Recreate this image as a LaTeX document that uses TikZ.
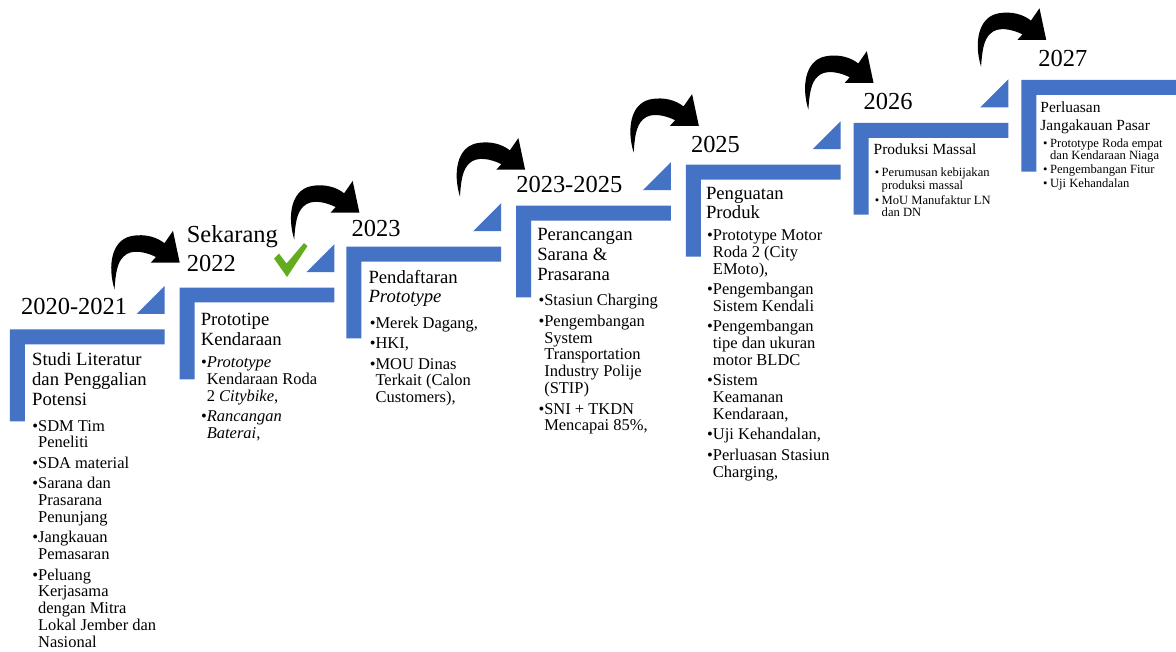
\documentclass[tikz,border=0pt]{standalone}
\usepackage{fontspec}
\setmainfont{Liberation Serif}
\usepackage{xcolor}
\usepackage{tikz}
\usetikzlibrary{calc}
\definecolor{stepblue}{RGB}{68,114,196}
\definecolor{checkgreen}{RGB}{98,172,30}
\tikzset{
	year/.style={anchor=base west, inner sep=0pt, align=left, font=\fontsize{24.5}{29}\selectfont},
	title/.style={anchor=base west, inner sep=0pt, align=left, font=\fontsize{18.7}{19.6}\selectfont},
	items/.style={anchor=base west, inner sep=0pt, align=left, font=\fontsize{16.5}{16.8}\selectfont},
	smalltitle/.style={anchor=base west, inner sep=0pt, align=left, font=\fontsize{15.5}{18.3}\selectfont},
	smallitems/.style={anchor=base west, inner sep=0pt, align=left, font=\fontsize{12.6}{12.2}\selectfont}
}
% L shaped step, corner at #1
\newcommand{\stairblock}[1]{%
	\fill[stepblue] (#1) -- ++(155,0) -- ++(0,15) -- ++(-140,0) -- ++(0,77) -- ++(-15,0) -- cycle;}
% small corner triangle of a step
\newcommand{\stairtri}[1]{%
	\fill[stepblue] ($(#1)+(127,-15.5)$) -- ++(28,0) -- ++(0,-28) -- cycle;}
% curved arrow, tip at #1
\newcommand{\bigcurve}[1]{%
	\fill[black, shift={(#1)}, xscale=1.02, yscale=1.12] (-64,24) .. controls (-71,3) and (-67,-19.5) .. (-48.3,-23.5)
	.. controls (-33.3,-26.5) and (-21.3,-22) .. (-15,-17.3) -- (-6.6,-28.3) -- (0,0) -- (-28.3,0)
	-- (-23.3,-5) .. controls (-33.3,-9.5) and (-47.5,-12.5) .. (-55,-5.5)
	.. controls (-61.5,0) and (-63,10) .. (-64,24) -- cycle;}
\newcommand{\itm}{\llap{\textbullet}}
\newcommand{\itms}{\llap{\textbullet\hspace{2.5pt}}}

\begin{document}
\begin{tikzpicture}[x=1pt, y=-1pt]
	\path[fill=white] (0,0) rectangle (1176,653);

	\coordinate[](s1) at (10,330);
	\coordinate[](s2) at (180,288);
	\coordinate[](s3) at (347,247);
	\coordinate[](s4) at (517,206);
	\coordinate[](s5) at (687,165);
	\coordinate[](s6) at (855,123);
	\coordinate[](s7) at (1023,80);

	%% Steps
	\stairblock{s1} \stairtri{s1}
	\stairblock{s2} \stairtri{s2}
	\stairblock{s3} \stairtri{s3}
	\stairblock{s4} \stairtri{s4}
	\stairblock{s5} \stairtri{s5}
	\stairblock{s6} \stairtri{s6}
	\stairblock{s7}

	%% Arrows
	\bigcurve{180,263}
	\bigcurve{360,213}
	\bigcurve{526,170}
	\bigcurve{700,126}
	\bigcurve{875,83}
	\bigcurve{1048,40}

	% Check mark
	\fill[checkgreen] (274.5,259) -- (279.5,254) -- (287,264) -- (304.5,243.5) -- (308,246.5) -- (287.5,277.5) -- cycle;

	%% Years (anchored on the last line)
	\node[year] (y1) at (21,315) {2020-2021};
	\node[year] (y2) at (187,272) {Sekarang\\2022};
	\node[year] (y3) at (352,237) {2023};
	\node[year] (y4) at (517,193) {2023-2025};
	\node[year] (y5) at (692,153) {2025};
	\node[year] (y6) at (865,110) {2026};
	\node[year] (y7) at (1040,67) {2027};

	%% Titles
	\node[title] (t1) at (32,405.7) {Studi Literatur\\dan Penggalian\\Potensi};
	\node[title] (t2) at (201,345.7) {Prototipe\\Kendaraan};
	\node[title] (t3) at (369,303.3) {Pendaftaran\\\textit{Prototype}};
	\node[title] (t4) at (538,280.5) {Perancangan\\Sarana \&\\Prasarana};
	\node[title] (t5) at (707,219.3) {Penguatan\\Produk};
	\node[smalltitle] (t6) at (875,154.5) {Produksi Massal};
	\node[smalltitle] (t7) at (1042,130.5) {Perluasan\\Jangakauan Pasar};

	%% Items
	\node[items] (i1) at (38,648.3) {\itm SDM Tim\\Peneliti\\[3.7pt]\itm SDA material\\[3.7pt]\itm Sarana dan\\Prasarana\\Penunjang\\[3.7pt]\itm Jangkauan\\Pemasaran\\[3.7pt]\itm Peluang\\Kerjasama\\dengan Mitra\\Lokal Jember dan\\Nasional};
	\node[items] (i2) at (207,439) {\itm\textit{Prototype}\\Kendaraan Roda\\2 \textit{Citybike},\\[3.7pt]\itm\textit{Rancangan}\\\textit{Baterai},};
	\node[items] (i3) at (376,403.3) {\itm Merek Dagang,\\[3.7pt]\itm HKI,\\[3.7pt]\itm MOU Dinas\\Terkait (Calon\\Customers),};
	\node[items] (i4) at (545,431.5) {\itm Stasiun Charging\\[3.7pt]\itm Pengembangan\\System\\Transportation\\Industry Polije\\(STIP)\\[3.7pt]\itm SNI + TKDN\\Mencapai 85\%,};
	\node[items] (i5) at (714,478) {\itm Prototype Motor\\Roda 2 (City\\EMoto),\\[3.7pt]\itm Pengembangan\\Sistem Kendali\\[3.7pt]\itm Pengembangan\\tipe dan ukuran\\motor BLDC\\[3.7pt]\itm Sistem\\Keamanan\\Kendaraan,\\[3.7pt]\itm Uji Kehandalan,\\[3.7pt]\itm Perluasan Stasiun\\Charging,};
	\node[smallitems] (i6) at (883,216.6) {\itms Perumusan kebijakan\\produksi massal\\[2.8pt]\itms MoU Manufaktur LN\\dan DN};
	\node[smallitems] (i7) at (1051.7,187.5) {\itms Prototype Roda empat\\dan Kendaraan Niaga\\[1.5pt]\itms Pengembangan Fitur\\[1.5pt]\itms Uji Kehandalan};

\end{tikzpicture}
\end{document}
